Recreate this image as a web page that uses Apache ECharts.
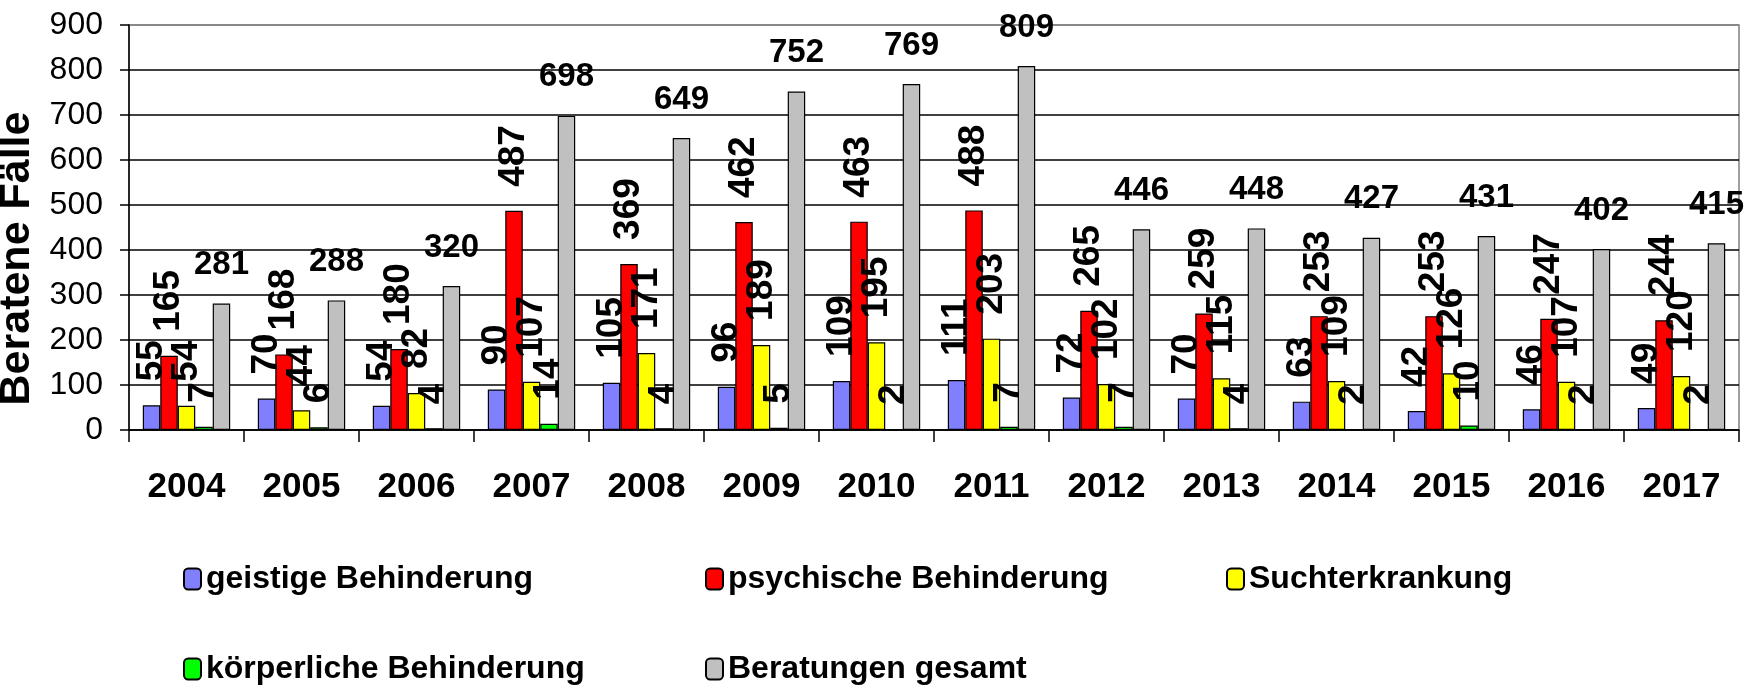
<!DOCTYPE html>
<html>
<head>
<meta charset="utf-8">
<title>Beratene Fälle</title>
<script src="https://cdn.jsdelivr.net/npm/echarts@6/dist/echarts.min.js"></script>
<style>
  html, body { margin: 0; padding: 0; background: #fff; }
  #container { width: 1763px; height: 694px; }
</style>
</head>
<body>
<div id="container"></div>
<script>
// Jahre
var years = ['2004', '2005', '2006', '2007', '2008', '2009', '2010', '2011', '2012', '2013', '2014', '2015', '2016', '2017'];
// Werte je Gruppe
var geistig = [55, 70, 54, 90, 105, 96, 109, 111, 72, 70, 63, 42, 46, 49];
var psychisch = [165, 168, 180, 487, 369, 462, 463, 488, 265, 259, 253, 253, 247, 244];
var sucht = [54, 44, 82, 107, 171, 189, 195, 203, 102, 115, 109, 126, 107, 120];
var koerperlich = [7, 6, 4, 14, 4, 5, 2, 7, 7, 4, 2, 10, 2, 2];
var gesamt = [281, 288, 320, 698, 649, 752, 769, 809, 446, 448, 427, 431, 402, 415];
var yTicks = [0, 100, 200, 300, 400, 500, 600, 700, 800, 900];

var FONT = '"Liberation Sans", Arial, sans-serif';

var myChart = echarts.init(document.getElementById('container'));

// senkrechte Beschriftung ueber den Balken
function vertLabel() {
	return {
		show : true,
		position : 'top',
		distance : 24,
		rotate : 90,
		align : 'left',
		verticalAlign : 'middle',
		color : '#000',
		fontFamily : FONT,
		fontWeight : 'bold',
		fontSize : 37
	};
}

function barSeries(name, data, color, label) {
	return {
		name : name,
		type : 'bar',
		data : data,
		barGap : 0,
		barCategoryGap : '24%',
		itemStyle : {
			color : color,
			borderColor : '#000',
			borderWidth : 1.2
		},
		label : label,
		animation : false
	};
}

function legendAt(name, left, top) {
	return {
		data : [ name ],
		left : left,
		top : top,
		padding : 0,
		itemWidth : 17,
		itemHeight : 21,
		selectedMode : false,
		textStyle : {
			fontFamily : FONT,
			fontWeight : 'bold',
			fontSize : 32,
			color : '#000'
		}
	};
}

var gridColors = [];
for (var i = 0; i < yTicks.length; i++) {
	gridColors.push(i === yTicks.length - 1 ? '#808080' : '#000');
}

myChart.setOption({
	animation : false,
	backgroundColor : '#fff',
	grid : {
		left : 129,
		right : 24,
		top : 25,
		bottom : 264,
		outerBoundsMode : 'none',
		containLabel : false,
		show : true,
		borderColor : '#808080',
		borderWidth : 1.5
	},
	legend : [
		legendAt('geistige Behinderung', 183, 563),
		legendAt('psychische Behinderung', 705, 563),
		legendAt('Suchterkrankung', 1226, 563),
		legendAt('körperliche Behinderung', 183, 653),
		legendAt('Beratungen gesamt', 705, 653)
	],
	xAxis : {
		type : 'category',
		data : years,
		axisLine : { lineStyle : { color : '#000', width : 1.5 } },
		axisTick : { show : true, length : 12, lineStyle : { color : '#000', width : 1.5 } },
		axisLabel : {
			margin : 40,
			color : '#000',
			fontFamily : FONT,
			fontWeight : 'bold',
			fontSize : 35
		}
	},
	yAxis : {
		type : 'value',
		min : yTicks[0],
		max : yTicks[yTicks.length - 1],
		interval : 100,
		name : 'Beratene Fälle',
		nameLocation : 'middle',
		nameGap : 76,
		nameTextStyle : {
			color : '#000',
			fontFamily : FONT,
			fontWeight : 'bold',
			fontSize : 43,
			padding : [0, 62, 0, 0]
		},
		axisLine : { show : true, lineStyle : { color : '#000', width : 1.5 } },
		axisTick : { show : true, length : 9, lineStyle : { color : '#000', width : 1.5 } },
		axisLabel : {
			margin : 26,
			color : '#000',
			fontFamily : FONT,
			fontSize : 32
		},
		splitLine : { show : true, lineStyle : { color : gridColors, width : 1.5 } }
	},
	series : [
		barSeries('geistige Behinderung', geistig, '#8080FF', vertLabel()),
		barSeries('psychische Behinderung', psychisch, '#FF0000', vertLabel()),
		barSeries('Suchterkrankung', sucht, '#FFFF00', vertLabel()),
		barSeries('körperliche Behinderung', koerperlich, '#00FF00', vertLabel()),
		barSeries('Beratungen gesamt', gesamt, '#C0C0C0', {
			show : true,
			position : 'top',
			distance : 22,
			color : '#000',
			fontFamily : FONT,
			fontWeight : 'bold',
			fontSize : 33
		})
	]
});

window.addEventListener('resize', function() {
	myChart.resize();
});
</script>
</body>
</html>
